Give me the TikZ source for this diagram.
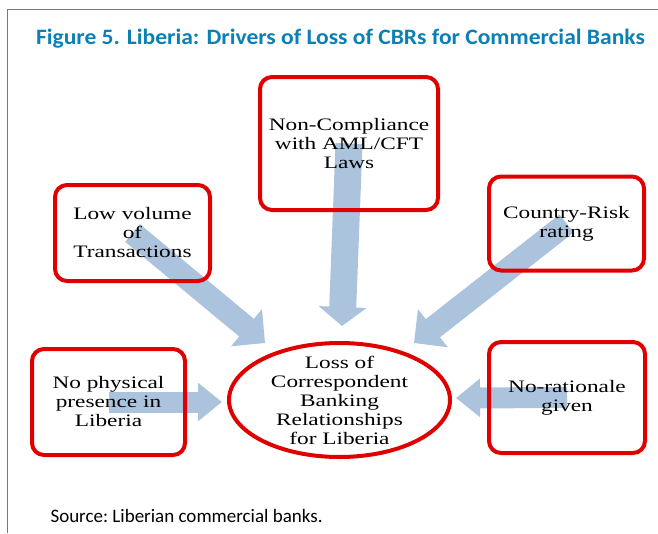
\documentclass[tikz,border=0pt]{standalone}
\usepackage{fontspec}
\usepackage{tikz}
\usetikzlibrary{arrows.meta,shapes.geometric,backgrounds}
\setmainfont{Liberation Serif}
\newfontfamily\boxfont[FakeStretch=1.33]{Liberation Serif}
\newfontfamily\capfont[FakeStretch=1.07]{Carlito}
\newfontfamily\srcfont{Carlito}
\definecolor{boxred}{RGB}{224,0,0}
\definecolor{drvblue}{RGB}{172,195,222}
\definecolor{titleblue}{RGB}{10,128,180}
\definecolor{framegray}{RGB}{120,120,120}
\tikzset{
  cause/.style={rectangle,rounded corners=12pt,draw=boxred,line width=4pt,align=center,
    font={\boxfont\fontsize{17.5}{19}\selectfont}},
  drv/.style={draw=drvblue,line width=23pt,-{Triangle[length=24pt,width=47pt]}},
  drvh/.style={draw=drvblue,line width=21pt,-{Triangle[length=24pt,width=37pt]}},
  drvv/.style={draw=drvblue,line width=27pt,-{Triangle[length=19pt,width=47pt]}}
}
\begin{document}
\begin{tikzpicture}[x=1pt,y=-1pt]

      \useasboundingbox (0,0) rectangle (658,533);
      \draw[framegray,line width=1pt] (7,533) -- (7,9) -- (658,9);

      \node[anchor=base,text=titleblue,font={\capfont\bfseries\fontsize{22}{26}\selectfont}] (title) at (340.5,44){Figure 5. Liberia: Drivers of Loss of CBRs for Commercial Banks};

      \node[cause,minimum width=178pt,minimum height=133pt] (comp) at (349,143.5){Non-Compliance\\with AML/CFT\\Laws};
      \node[cause,minimum width=155pt,minimum height=96pt] (low) at (132.5,233){Low volume\\of\\Transactions};
      \node[cause,minimum width=155pt,minimum height=94pt] (risk) at (566.5,223.5){Country-Risk\\rating};
      \node[cause,minimum width=153pt,minimum height=106pt] (phys) at (108.5,402){No physical\\presence in\\Liberia};
      \node[cause,minimum width=156pt,minimum height=111pt] (rat) at (567,397.5){No-rationale\\given};
      \node[cause,ellipse,minimum width=221pt,minimum height=114pt,inner xsep=0pt,inner ysep=-8pt] (loss) at (339.5,400){Loss of\\Correspondent\\Banking\\Relationships\\for Liberia};

      \coordinate (lowtip) at (265,343);
      \coordinate (comptip) at (342,326);
      \coordinate (risktip) at (414,343);
      \coordinate (phystip) at (222,402);
      \coordinate (rattip) at (456,398);

      \begin{pgfonlayer}{background}
      \draw[drv] (low.center) -- (lowtip);
      \draw[drvv] (comp.center) -- (comptip);
      \draw[drv] (risk.center) -- (risktip);
      \draw[drvh] (phys.center) -- (phystip);
      \draw[drvh] (rat.center) -- (rattip);
      \end{pgfonlayer}

      \node[anchor=base west,font={\srcfont\fontsize{19}{23}\selectfont}] (src) at (47,522){Source:~Liberian commercial banks.};

    \end{tikzpicture}
\end{document}
